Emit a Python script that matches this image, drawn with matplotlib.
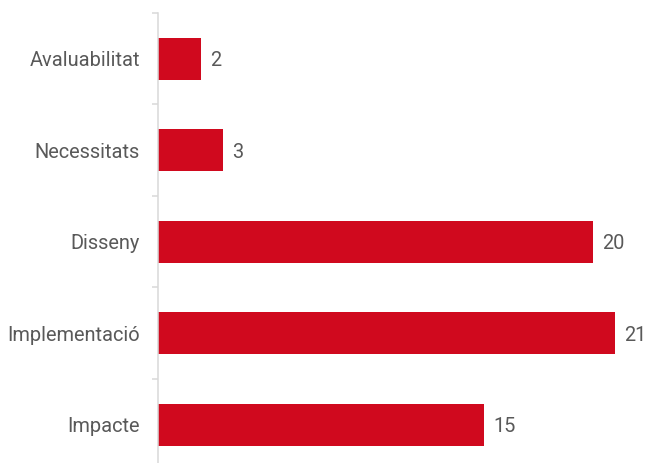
# horizontal bar chart of counts per category

import matplotlib.pyplot as plt

categories = ['Avaluabilitat', 'Necessitats', 'Disseny', 'Implementació', 'Impacte']
values = [2, 3, 20, 21, 15]

bar_color = '#D0091E'
text_color = '#595959'
axis_color = '#D9D9D9'

plt.rcParams['font.family'] = ['Roboto', 'DejaVu Sans']

fig = plt.figure(figsize=(6.45, 4.63), dpi=100)
ax = fig.add_axes([158 / 645, 0, 474 / 645, 450 / 463])

positions = list(range(len(categories)))
bars = ax.barh(positions, values, height=0.46, color=bar_color)

# value labels next to the bars
for pos, val in zip(positions, values):
    ax.text(val + 0.42, pos + 0.02, str(val), va='center', ha='left',
            fontsize=14.4, color=text_color)

ax.set_xlim(0, 21.8)
ax.set_ylim(-0.5 + 450 / 91.5, -0.5)

ax.set_yticks(positions)
ax.set_yticklabels(categories)
ax.set_yticks([p - 0.5 for p in positions], minor=True)
ax.tick_params(axis='y', which='major', length=0, pad=13,
               labelsize=14.4, labelcolor=text_color)
ax.tick_params(axis='y', which='minor', length=4.5, width=1.1, color=axis_color)
ax.set_xticks([])

for side in ['top', 'right', 'bottom']:
    ax.spines[side].set_visible(False)
ax.spines['left'].set_color(axis_color)
ax.spines['left'].set_linewidth(1.1)

fig.savefig('out.png', dpi=100)
